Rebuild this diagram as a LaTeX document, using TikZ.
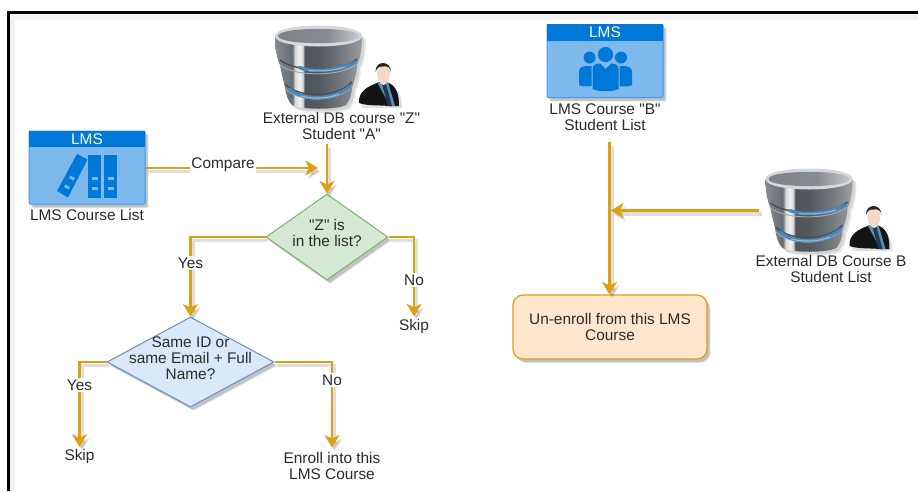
\documentclass[tikz,border=0pt]{standalone}
\usepackage{fontspec}
\newfontfamily\libsans{Liberation Sans}
\usetikzlibrary{arrows.meta,shapes.geometric,shadows,positioning}
\definecolor{arrowc}{HTML}{DDA010}
\definecolor{txt}{HTML}{2B2B2B}
\definecolor{lmsd}{HTML}{0078D7}
\definecolor{lmsl}{HTML}{7DB9EC}
\definecolor{lmsb}{HTML}{3F9BE6}
\definecolor{dba}{HTML}{858B91}
\definecolor{dbb}{HTML}{666C73}
\definecolor{dbc}{HTML}{D5D8DA}
\definecolor{dbd}{HTML}{F2F2F2}
\definecolor{dbe}{HTML}{50555C}
\definecolor{dbf}{HTML}{53585F}
\definecolor{dbg}{HTML}{6F757B}
\definecolor{dbh}{HTML}{979CA1}
\definecolor{dbtl}{HTML}{7E8388}
\definecolor{dbtr}{HTML}{C5C8CB}
\definecolor{dbblue}{HTML}{4A88BC}
\definecolor{dbbluel}{HTML}{8DBBE0}
\definecolor{manshirt}{HTML}{5A8CB4}
\definecolor{mantie}{HTML}{233750}
\definecolor{manface}{HTML}{F5D9C8}
\definecolor{greenb}{HTML}{82B366}
\definecolor{greenf}{HTML}{D5E8D4}
\definecolor{blueb}{HTML}{6C8EBF}
\definecolor{bluef}{HTML}{DAE8FC}
\definecolor{orangef}{HTML}{FFE6CC}
\pgfdeclarehorizontalshading{dbside}{100bp}{color(0bp)=(dba);color(25bp)=(dba);color(35bp)=(dbb);color(36.5bp)=(dbc);color(39bp)=(dbd);color(41bp)=(dbc);color(42bp)=(dbe);color(50bp)=(dbf);color(62bp)=(dbg);color(74bp)=(dbh);color(100bp)=(dbh)}
\pgfdeclarehorizontalshading{dbtop}{100bp}{color(0bp)=(dbtl);color(25bp)=(dbtl);color(55bp)=(dba);color(75bp)=(dbtr);color(100bp)=(dbtr)}
\newcommand{\zb}[1]{\raisebox{-4pt}{\smash{\makebox[0pt]{\begin{tabular}{@{}c@{}}#1\end{tabular}}}}}
\newcommand{\barrelpath}{(0,12) .. controls (0,0) and (87,0) .. (87,12)
      .. controls (87,24) and (85,34) .. (82,40)
      .. controls (82,48) and (79,56) .. (77,63)
      .. controls (77,70) and (74,76) .. (71,80)
      .. controls (62,85) and (26,85) .. (17,80)
      .. controls (13,76) and (11,70) .. (10,63)
      .. controls (9,56) and (6,48) .. (5,40)
      .. controls (2,34) and (0,24) .. (0,12) -- cycle}
\tikzset{
  softshadow/.style={
    general shadow={shadow xshift=3.5pt,shadow yshift=-4pt,fill=black,fill opacity=.06},
    general shadow={shadow xshift=3pt,shadow yshift=-3.5pt,fill=black,fill opacity=.08},
    general shadow={shadow xshift=2.5pt,shadow yshift=-3pt,fill=black,fill opacity=.12}},
  txtnode/.style={inner sep=0pt,outer sep=0pt,align=center,text=txt,font=\libsans\fontsize{15.4}{15.8}\selectfont},
  edgelabel/.style={txtnode,fill=white,inner xsep=1pt,inner ysep=1.5pt},
  conn/.style={draw=arrowc,line width=2.3pt,
    preaction={draw=black,opacity=.13,line width=3.5pt,transform canvas={shift={(2.5pt,-3.5pt)}}}},
  arr/.style={conn,-{Stealth[length=12.5pt,width=15pt,inset=3.5pt]}},
  lmsbox/.style={rectangle,rounded corners=1pt,draw=lmsb,line width=1pt,fill=lmsl,minimum width=116pt,minimum height=73pt,inner sep=0pt,softshadow},
  lmshead/.style={rectangle,fill=lmsd,minimum width=116pt,minimum height=16.5pt,inner sep=0pt,text=white,font=\libsans\fontsize{15.4}{15}\selectfont},
  lmsicon/.style={fill=lmsd},
  lmsmark/.style={fill=lmsl},
  decide/.style={shape=diamond,inner sep=0pt,line width=1pt,text=txt,font=\libsans\fontsize{15.4}{15.8}\selectfont,softshadow},
  dbicon/.pic={
    \begin{scope}[shift={(4,4)}]
      \fill[black,opacity=.09] \barrelpath;
    \end{scope}
    \begin{scope}[shift={(2.5,2.5)}]
      \fill[black,opacity=.09] \barrelpath;
    \end{scope}
    \shade[shading=dbside] \barrelpath;
    % top opening
    \fill[dbc] (0,11) .. controls (0,-3) and (87,-3) .. (87,11) .. controls (87,25) and (0,25) .. (0,11) -- cycle;
    \shade[shading=dbtop] (3,11) .. controls (3,1.5) and (84,1.5) .. (84,11) .. controls (84,20.5) and (3,20.5) .. (3,11) -- cycle;
    % bands
    \draw[black!70,line width=1.4pt] (5,35) .. controls (20,47.5) and (66,47.5) .. (82,34);
    \draw[black!70,line width=1.4pt] (10,59) .. controls (24,73.5) and (62,73.5) .. (77,57);
    \draw[black!35,line width=1pt] (5,40) .. controls (20,52) and (66,52) .. (82,39);
    \draw[black!35,line width=1pt] (10,63.5) .. controls (24,78) and (62,78) .. (77,61.5);
    \draw[dbblue,line width=3.4pt,line cap=round] (24,42.5) .. controls (36,47) and (58,47) .. (80,37.5);
    \draw[dbblue,line width=3.4pt,line cap=round] (14,64) .. controls (30,76) and (56,76) .. (75,61.5);
    \draw[dbbluel,line width=1.1pt,line cap=round] (34,45.5) .. controls (44,46.5) and (58,46) .. (70,42);
    \draw[dbbluel,line width=1.1pt,line cap=round] (26,71) .. controls (38,74) and (52,74) .. (64,69);
    % man
    \begin{scope}[shift={(84,37)}]
      \fill[black,opacity=.12] (3,46) .. controls (2,32) and (14,24) .. (24,22) .. controls (36,24) and (43,30) .. (43,46) -- cycle;
      \fill[black!92] (0,41) .. controls (-1,29) and (10,24) .. (18,21) -- (30,21) .. controls (38,25) and (40,33) .. (40,44) -- (30,44) .. controls (20,43) and (8,44) .. (0,41) -- cycle;
      \fill[manshirt] (18,20) -- (29,20) -- (36,44) -- (31,44) -- cycle;
      \fill[mantie] (23,22) -- (27,22) -- (33,44) -- (29,44) -- cycle;
      \fill[manface] (18,11) .. controls (18,0) and (31,0) .. (31,11) .. controls (31,18) and (27,23) .. (24.5,23) .. controls (22,23) and (18,18) .. (18,11) -- cycle;
      \fill[black!85] (16.5,10) .. controls (16,-2) and (32,-2) .. (32,10) .. controls (31,5) and (29,4) .. (24,4.5) .. controls (20,4) and (18,6) .. (16.5,10) -- cycle;
    \end{scope}
  },
}
\begin{document}
\begin{tikzpicture}[x=1pt,y=-1pt]
\useasboundingbox (0,0) rectangle (918,491);
\fill[white] (0,0) rectangle (918,491);
% frame
\draw[black,line width=2.6pt,preaction={draw=black,draw opacity=.05,line width=6pt,transform canvas={shift={(3pt,-4pt)}}}] (918,12.5) -- (8.5,12.5) -- (8.5,491);

% ---------- LMS course list
\node[lmsbox] (lms1) at (87,167.5) {};
\node[lmshead] (lms1h) at (87,139) {LMS};
\fill[lmsicon] (77,154) -- (87.5,159.5) -- (68,197.5) -- (57,191) -- cycle;
\fill[lmsicon] (88,155) rectangle (100.7,198);
\fill[lmsicon] (104.3,155) rectangle (117,198);
\fill[lmsmark] (92,176.5) rectangle (97.5,179.5);
\fill[lmsmark] (92,187) rectangle (97.5,190);
\fill[lmsmark] (108,176.5) rectangle (113.5,179.5);
\fill[lmsmark] (108,187) rectangle (113.5,190);
\fill[lmsmark] (70.5,175.5) -- (75,178) -- (73.5,180.5) -- (69,178) -- cycle;
\fill[lmsmark] (65.5,184.5) -- (70,187) -- (68.5,189.5) -- (64,187) -- cycle;
\node[txtnode] (lms1t) at (87,215) {LMS Course List};

% ---------- External DB Z
\pic at (275,25) {dbicon};
\node[txtnode] (db1t) at (341.5,126) {External DB course "Z"\\Student "A"};
\coordinate (db1out) at (327,144);
\coordinate (cmpend) at (318,168);

% ---------- decisions
\node[decide,draw=greenb,fill=greenf,minimum width=122pt,minimum height=86pt,aspect=1.42] (d1) at (327,237) {\zb{"Z" is\\in the list?}};
\node[decide,draw=blueb,fill=bluef,minimum width=167pt,minimum height=90pt,aspect=1.85] (d2) at (190.5,362) {\zb{Same ID or\\same Email + Full\\Name?}};

\node[txtnode] (skip1) at (414,326.5) {Skip};
\node[txtnode] (skip2) at (79.5,457) {Skip};
\node[txtnode] (enroll) at (332,466) {Enroll into this\\LMS Course};

\draw[arr] (lms1.east |- cmpend) -- node[edgelabel,pos=.45,yshift=3.5pt] (cmp) {Compare} (cmpend);
\draw[arr] (db1out) -- (d1.north);
\draw[arr] (d1.west) -| node[edgelabel,pos=.665] (y1) {Yes} (d2.north);
\draw[arr,shorten >=3pt] (d1.east) -| node[edgelabel,pos=.76] (n1) {No} (skip1.north);
\draw[arr,shorten >=3pt] (d2.west) -| node[edgelabel,pos=.63] (y2) {Yes} (skip2.north);
\draw[arr,shorten >=5pt] (d2.east) -| node[edgelabel,pos=.6] (n2) {No} (enroll.north);

% ---------- LMS course B
\node[lmsbox] (lms2) at (605,61) {};
\node[lmshead] (lms2h) at (605,32.5) {LMS};
\fill[lmsicon] (579,72) .. controls (579,67) and (583,66) .. (586,66) -- (591.5,66) -- (591.5,86) .. controls (586,87) and (582,86.5) .. (579,85) -- cycle;
\fill[lmsicon] (632,72) .. controls (632,67) and (628,66) .. (625,66) -- (619.5,66) -- (619.5,86) .. controls (625,87) and (629,86.5) .. (632,85) -- cycle;
\fill[lmsicon] (592.5,70) .. controls (592.5,65) and (595,63.5) .. (600,63.5) -- (605.5,69) -- (611,63.5) .. controls (616,63.5) and (618.5,65) .. (618.5,70) -- (618.5,89) .. controls (612,92) and (599,92) .. (592.5,89) -- cycle;
\fill[lmsicon] (605.5,54.5) circle[radius=7.6];
\fill[lmsicon] (589.5,57.5) circle[radius=6];
\fill[lmsicon] (621,57.5) circle[radius=6];
\node[txtnode] (lms2t) at (605,117) {LMS Course "B"\\Student List};
\coordinate (lms2out) at (609.5,142);
\coordinate (mergein) at (611,210.5);

% ---------- External DB B
\pic at (765.5,168) {dbicon};
\node[txtnode] (db2t) at (831,269) {External DB Course B\\Student List};
\coordinate (db2out) at (759,210.5);

% ---------- Un-enroll
\node[rectangle,rounded corners=10pt,draw=arrowc,line width=1.2pt,fill=orangef,minimum width=194pt,minimum height=64pt,inner sep=0pt,align=center,text=txt,font=\libsans\fontsize{15.4}{15.8}\selectfont,softshadow] (unenroll) at (610,327) {Un-enroll from this LMS\\Course};

\draw[arr] (lms2out) -- (lms2out |- unenroll.north);
\draw[arr] (db2out) -- (mergein);
\end{tikzpicture}
\end{document}
